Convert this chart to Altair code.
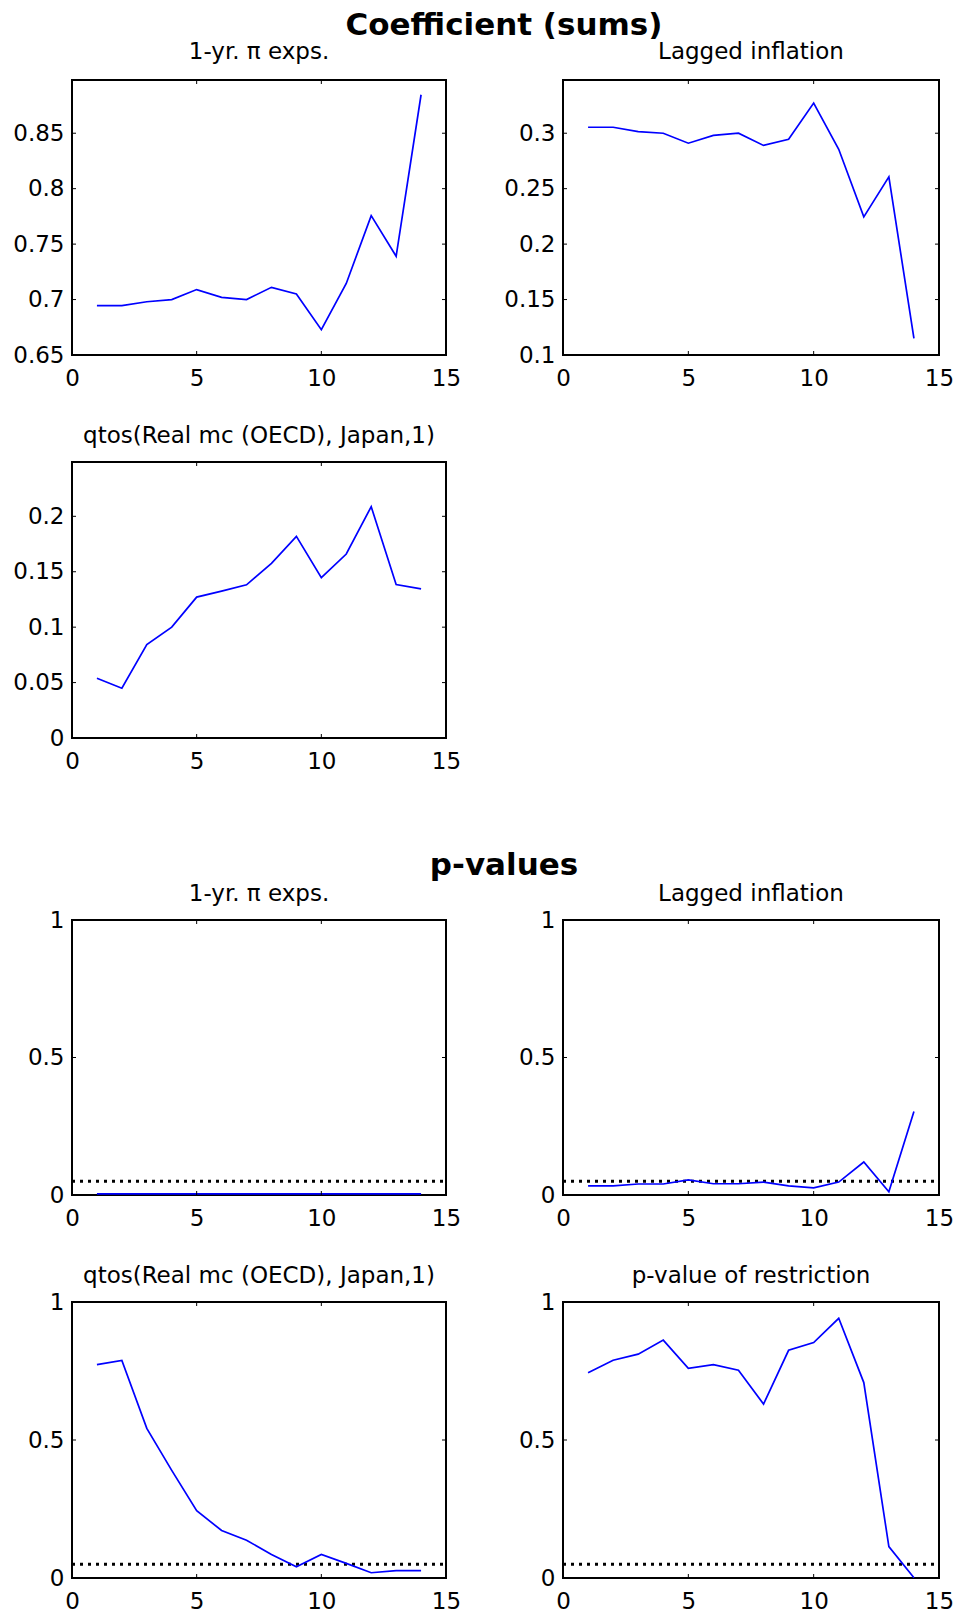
import altair as alt
import pandas as pd

FONT = "DejaVu Sans"
BLUE = "#0000ff"

# ---------------- data ----------------
horizon = [1, 2, 3, 4, 5, 6, 7, 8, 9, 10, 11, 12, 13, 14]

coef_exp = [0.6946, 0.6946, 0.698, 0.700, 0.709, 0.702, 0.700, 0.711, 0.705, 0.6728, 0.7145, 0.7757, 0.739, 0.8847]
coef_lag = [0.3054, 0.3054, 0.3015, 0.300, 0.291, 0.298, 0.300, 0.289, 0.2946, 0.3272, 0.2855, 0.2246, 0.2606, 0.115]
coef_mc = [0.0539, 0.0449, 0.0843, 0.100, 0.1271, 0.1325, 0.1382, 0.1575, 0.1819, 0.1446, 0.166, 0.2087, 0.1385, 0.1346]

p_exp = [0.004, 0.004, 0.004, 0.004, 0.004, 0.004, 0.004, 0.004, 0.004, 0.004, 0.004, 0.004, 0.004, 0.004]
p_lag = [0.033, 0.033, 0.040, 0.040, 0.055, 0.041, 0.041, 0.047, 0.033, 0.026, 0.047, 0.120, 0.012, 0.304]
p_mc = [0.773, 0.788, 0.542, 0.390, 0.244, 0.172, 0.137, 0.085, 0.041, 0.085, 0.053, 0.019, 0.027, 0.027]
p_restr = [0.744, 0.789, 0.811, 0.862, 0.760, 0.773, 0.753, 0.630, 0.825, 0.853, 0.941, 0.708, 0.114, 0.001]

sig_level = [0.05]

x_ticks = [0, 5, 10, 15]
yt_exp = [0.65, 0.7, 0.75, 0.8, 0.85]
yt_lag = [0.1, 0.15, 0.2, 0.25, 0.3]
yt_mc = [0, 0.05, 0.1, 0.15, 0.2]
yt_p = [0, 0.5, 1]

title_exp = "1-yr. \u03c0 exps."
title_lag = "Lagged inflation"
title_mc = "qtos(Real mc (OECD), Japan,1)"
title_restr = "p-value of restriction"
section_1 = "Coefficient (sums)"
section_2 = "p-values"

# ---------------- layout sizes ----------------
W_L, W_R = 374, 376
H = 276


def panel(title, values, ydom, yticks, width, height, sig=False, toff=-4):
    df = pd.DataFrame({"h": horizon, "v": values})
    xs = alt.Scale(domain=[0, 15], nice=False, zero=False)
    ys = alt.Scale(domain=ydom, nice=False, zero=False)
    xax = alt.Axis(values=x_ticks, ticks=False, tickSize=0, domain=False, grid=False,
                   labelFlush=False, labelPadding=12, format="~g")
    yax = alt.Axis(values=yticks, ticks=False, tickSize=0, domain=False, grid=False,
                   labelPadding=8, format="~g")
    layers = []
    if sig:
        sdf = pd.DataFrame({"x0": [0], "x1": [15], "p": sig_level})
        layers.append(
            alt.Chart(sdf).mark_rule(color="black", strokeWidth=3, strokeDash=[3, 5]).encode(
                x=alt.X("x0:Q", scale=xs, axis=xax, title=None),
                x2="x1:Q",
                y=alt.Y("p:Q", scale=ys, axis=yax, title=None),
            )
        )
    layers.append(
        alt.Chart(df).mark_line(color=BLUE, strokeWidth=1.7).encode(
            x=alt.X("h:Q", scale=xs, axis=xax, title=None),
            y=alt.Y("v:Q", scale=ys, axis=yax, title=None),
        )
    )
    xt = pd.DataFrame({"t": x_ticks})
    yt = pd.DataFrame({"t": yticks})
    tick = dict(color="black", strokeWidth=1)
    layers.append(alt.Chart(xt).mark_rule(**tick).encode(
        x=alt.X("t:Q", scale=xs, axis=xax, title=None), y=alt.value(height), y2=alt.value(height - 4)))
    layers.append(alt.Chart(xt).mark_rule(**tick).encode(
        x=alt.X("t:Q", scale=xs, axis=xax, title=None), y=alt.value(0), y2=alt.value(4)))
    layers.append(alt.Chart(yt).mark_rule(**tick).encode(
        y=alt.Y("t:Q", scale=ys, axis=yax, title=None), x=alt.value(0), x2=alt.value(4)))
    layers.append(alt.Chart(yt).mark_rule(**tick).encode(
        y=alt.Y("t:Q", scale=ys, axis=yax, title=None), x=alt.value(width - 4), x2=alt.value(width)))
    return alt.layer(*layers).properties(
        width=width,
        height=height,
        title=alt.Title(title, font=FONT, fontSize=23, fontWeight="normal", color="black",
                        anchor="middle", baseline="alphabetic", frame="group", offset=toff),
        view=alt.ViewBackground(stroke="black", strokeWidth=2),
    )


def blank(width, height):
    df = pd.DataFrame({"a": [0]})
    return alt.Chart(df).mark_rect(opacity=0).encode(
        x=alt.value(0), x2=alt.value(width), y=alt.value(0), y2=alt.value(height)
    ).properties(width=width, height=height, view=alt.ViewBackground(strokeWidth=0))


def heading(width, height, label, tx, ty):
    df = pd.DataFrame({"t": [label]})
    txt = alt.Chart(df).mark_text(
        font=FONT, fontSize=31, fontWeight="bold", align="center", baseline="alphabetic", color="black"
    ).encode(text="t:N", x=alt.value(tx), y=alt.value(ty))
    return alt.layer(blank(width, height), txt).properties(
        width=width, height=height, view=alt.ViewBackground(strokeWidth=0)
    )


cells = [
    heading(W_L, 80, section_1, 432, 35), blank(W_R, 80),
    panel(title_exp, coef_exp, [0.65, 0.898], yt_exp, W_L, 275, toff=-2),
    panel(title_lag, coef_lag, [0.1, 0.348], yt_lag, W_R, 275, toff=-2),
    blank(W_L, 107), blank(W_R, 107),
    panel(title_mc, coef_mc, [0, 0.249], yt_mc, W_L, H, toff=-4),
    blank(W_R, H),
    heading(W_L, 182, section_2, 432, 137), blank(W_R, 182),
    panel(title_exp, p_exp, [0, 1], yt_p, W_L, 275, sig=True, toff=-15),
    panel(title_lag, p_lag, [0, 1], yt_p, W_R, 275, sig=True, toff=-15),
    blank(W_L, 107), blank(W_R, 107),
    panel(title_mc, p_mc, [0, 1], yt_p, W_L, H, sig=True, toff=-15),
    panel(title_restr, p_restr, [0, 1], yt_p, W_R, H, sig=True, toff=-15),
]

chart = alt.concat(
    *cells, columns=2, spacing=alt.RowColnumber(row=0, column=117), bounds="flush", align="each"
).properties(
    padding={"left": 11, "top": 0, "right": 0, "bottom": 0}, background="white"
).configure_axis(
    labelFont=FONT, labelFontSize=23, labelColor="black"
).configure_view(strokeWidth=0)

chart.save("out.html", embed_options={"renderer": "svg", "actions": False})
